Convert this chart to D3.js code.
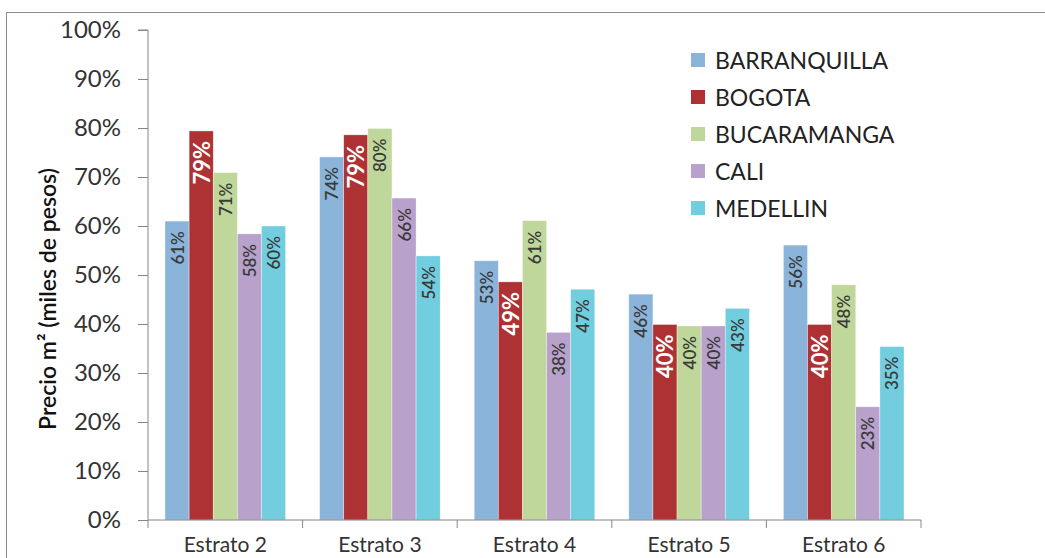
<!DOCTYPE html>
<html>
<head>
<meta charset="utf-8">
<script src="https://cdn.jsdelivr.net/npm/d3@7"></script>
<style>
  html, body { margin: 0; padding: 0; background: #fff; }
  svg { display: block; }
  text { font-family: Lato, "Liberation Sans", sans-serif; }
</style>
</head>
<body>
<svg id="chart" width="1045" height="558"></svg>
<script>
// Price per m² by socioeconomic stratum and city (share, 0–1)
const categories = ["Estrato 2", "Estrato 3", "Estrato 4", "Estrato 5", "Estrato 6"];
const cities = ["BARRANQUILLA", "BOGOTA", "BUCARAMANGA", "CALI", "MEDELLIN"];
const barranquilla = [0.610, 0.741, 0.529, 0.461, 0.561];
const bogota       = [0.794, 0.786, 0.486, 0.399, 0.399];
const bucaramanga  = [0.709, 0.799, 0.611, 0.396, 0.480];
const cali         = [0.584, 0.657, 0.383, 0.396, 0.231];
const medellin     = [0.600, 0.539, 0.471, 0.432, 0.354];
const yTicks = [0, 0.1, 0.2, 0.3, 0.4, 0.5, 0.6, 0.7, 0.8, 0.9, 1.0];
const colors = ["#8AB4DA", "#AE3234", "#BFD79A", "#B8A1CB", "#72CEDF"];

const seriesValues = [barranquilla, bogota, bucaramanga, cali, medellin];

const svg = d3.select("#chart");

// chart area frame
svg.append("rect")
  .attr("x", 6.5).attr("y", 12.5)
  .attr("width", 1100).attr("height", 600)
  .attr("fill", "none").attr("stroke", "#8c8c8c").attr("stroke-width", 1);

const plot = { left: 148, right: 921, top: 30, bottom: 520 };

const x0 = d3.scaleBand().domain(categories).range([plot.left, plot.right]).padding(0);
const groupPad = 17;
const x1 = d3.scaleBand().domain(cities).range([groupPad, x0.bandwidth() - groupPad]).padding(0);
const y = d3.scaleLinear().domain([0, 1]).range([plot.bottom, plot.top]);

const fmt = d3.format(".0%");

// bars
const groups = svg.append("g").selectAll("g")
  .data(categories)
  .join("g")
  .attr("transform", d => `translate(${x0(d)},0)`);

groups.each(function(cat, ci) {
  const g = d3.select(this);
  const rows = cities.map((c, si) => ({ city: c, si, value: seriesValues[si][ci] }));
  g.selectAll("rect")
    .data(rows)
    .join("rect")
    .attr("x", d => x1(d.city))
    .attr("y", d => y(d.value))
    .attr("width", x1.bandwidth())
    .attr("height", d => y(0) - y(d.value))
    .attr("fill", d => colors[d.si])
    .attr("stroke", "rgba(255,255,255,0.6)")
    .attr("stroke-width", 0.6);

  g.selectAll("text.lbl")
    .data(rows)
    .join("text")
    .attr("class", "lbl")
    .attr("transform", d => `translate(${x1(d.city) + x1.bandwidth() / 2},${y(d.value) + 10}) rotate(-90)`)
    .attr("text-anchor", "end")
    .attr("dominant-baseline", "central")
    .attr("fill", d => d.si === 1 ? "#ffffff" : "#3a3a3a")
    .attr("font-weight", d => d.si === 1 ? 700 : 600)
    .attr("font-size", d => d.si === 1 ? 22 : 17)
    .text(d => fmt(d.value));
});

// y axis
const yAxis = d3.axisLeft(y).tickValues(yTicks).tickFormat(fmt).tickSize(10).tickPadding(17);
const gy = svg.append("g").attr("transform", `translate(${plot.left},0)`).call(yAxis);
gy.select(".domain").attr("stroke", "#868686").attr("d", `M-10,${plot.top}H0V${plot.bottom}`);
gy.selectAll(".tick line").attr("stroke", "#868686");
gy.selectAll(".tick text").attr("font-size", 24).attr("fill", "#333").attr("font-family", "Lato, sans-serif");

// x axis
const xAxis = d3.axisBottom(x0).tickSize(0);
const gx = svg.append("g").attr("transform", `translate(0,${plot.bottom})`).call(xAxis);
gx.select(".domain").attr("stroke", "#868686").attr("d", `M${plot.left},0H${plot.right}V8`);
gx.selectAll(".tick text")
  .attr("y", 32).attr("dy", 0)
  .attr("font-size", 21).attr("fill", "#333").attr("font-family", "Lato, sans-serif");
// category boundary ticks
gx.selectAll("line.sep")
  .data(categories)
  .join("line")
  .attr("class", "sep")
  .attr("x1", d => x0(d)).attr("x2", d => x0(d))
  .attr("y1", 0).attr("y2", 8)
  .attr("stroke", "#868686");

// y axis title
svg.append("text")
  .attr("transform", `translate(47,299) rotate(-90)`)
  .attr("text-anchor", "middle")
  .attr("dominant-baseline", "central")
  .attr("font-size", 23)
  .attr("font-weight", 600)
  .attr("fill", "#111")
  .text("Precio m² (miles de pesos)");

// legend
const legend = svg.append("g").attr("transform", "translate(691,60)");
const items = legend.selectAll("g")
  .data(cities)
  .join("g")
  .attr("transform", (d, i) => `translate(0,${i * 37})`);
items.append("rect")
  .attr("x", 0).attr("y", -7)
  .attr("width", 14).attr("height", 14)
  .attr("fill", (d, i) => colors[i]);
items.append("text")
  .attr("x", 24).attr("y", 0)
  .attr("dominant-baseline", "central")
  .attr("font-size", 23)
  .attr("fill", "#222")
  .text(d => d);
</script>
</body>
</html>
